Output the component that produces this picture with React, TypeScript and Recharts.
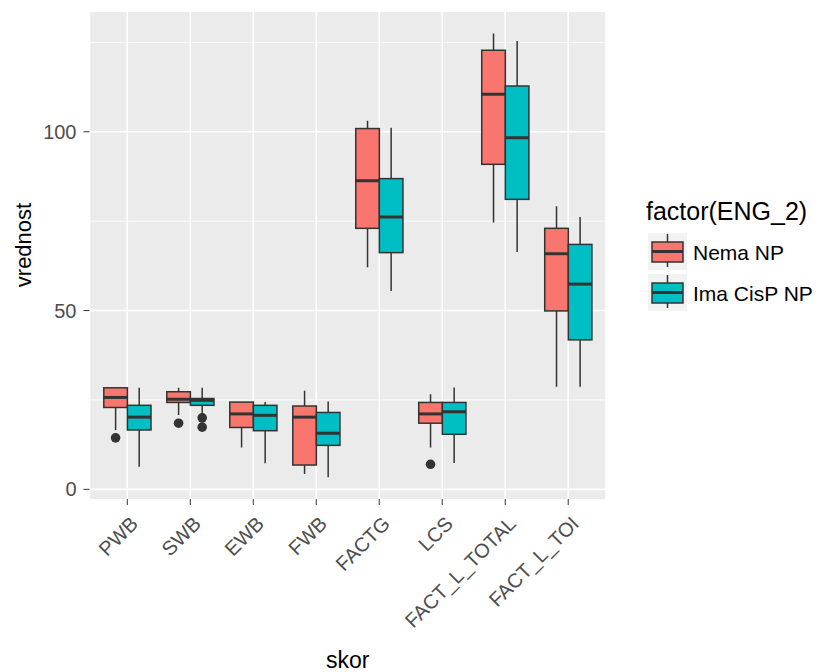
import { ComposedChart, Bar, XAxis, YAxis, CartesianGrid, Customized } from "recharts";

const categories = ["PWB", "SWB", "EWB", "FWB", "FACTG", "LCS", "FACT_L_TOTAL", "FACT_L_TOI"];

// Nema NP
const nemaLow = [16.6, 20.8, 11.7, 4.3, 62.1, 11.7, 74.6, 28.7];
const nemaQ1 = [22.9, 24.3, 17.3, 6.8, 73.0, 18.5, 90.9, 49.9];
const nemaMedian = [25.7, 25.2, 21.1, 20.2, 86.3, 21.1, 110.5, 65.9];
const nemaQ3 = [28.4, 27.3, 24.4, 23.3, 100.9, 24.3, 122.8, 73.0];
const nemaHigh = [28.4, 28.4, 24.4, 27.6, 103.1, 26.6, 127.5, 79.2];
const nemaOutliers = [[14.4], [18.5], [], [], [], [7.0], [], []];

// Ima CisP NP
const imaLow = [6.3, 21.0, 7.3, 3.4, 55.5, 7.4, 66.4, 28.7];
const imaQ1 = [16.6, 23.5, 16.4, 12.3, 66.2, 15.4, 81.1, 41.8];
const imaMedian = [20.2, 24.9, 20.7, 15.7, 76.2, 21.7, 98.3, 57.4];
const imaQ3 = [23.5, 25.4, 23.5, 21.5, 86.9, 24.3, 112.8, 68.5];
const imaHigh = [28.4, 28.4, 24.4, 24.6, 101.1, 28.5, 125.4, 76.2];
const imaOutliers = [[], [20.0, 17.4], [], [], [], [], [], []];

const yTicks = [0, 50, 100];
const yMinorTicks = [25, 75, 125];

const RED = "#F8766D";
const TEAL = "#00BFC4";
const OUTLINE = "#333333";
const FONT = "'Liberation Sans', Arial, sans-serif";

const legendItems = [
  { label: "Nema NP", color: RED },
  { label: "Ima CisP NP", color: TEAL },
];

const data = categories.map((skor, i) => ({
  skor,
  nema: [nemaLow[i], nemaHigh[i]],
  ima: [imaLow[i], imaHigh[i]],
  nemaBox: { low: nemaLow[i], q1: nemaQ1[i], med: nemaMedian[i], q3: nemaQ3[i], high: nemaHigh[i], out: nemaOutliers[i] },
  imaBox: { low: imaLow[i], q1: imaQ1[i], med: imaMedian[i], q3: imaQ3[i], high: imaHigh[i], out: imaOutliers[i] },
}));

// draws one box from the range bar's rectangle (low..high mapped linearly)
const BoxShape = (props: any) => {
  const { x, y, width, height, fill, box } = props;
  if (!box) return null;
  const py = (v: number) => y + (height * (box.high - v)) / (box.high - box.low);
  const cx = x + width / 2;
  return (
    <g>
      <line x1={cx} x2={cx} y1={py(box.high)} y2={py(box.q3)} stroke={OUTLINE} strokeWidth={1.5} />
      <line x1={cx} x2={cx} y1={py(box.q1)} y2={py(box.low)} stroke={OUTLINE} strokeWidth={1.5} />
      <rect x={x} y={py(box.q3)} width={width} height={py(box.q1) - py(box.q3)} fill={fill} stroke={OUTLINE} strokeWidth={1.5} />
      <line x1={x} x2={x + width} y1={py(box.med)} y2={py(box.med)} stroke={OUTLINE} strokeWidth={3} />
      {box.out.map((o: number, k: number) => (
        <circle key={k} cx={cx} cy={py(o)} r={4.8} fill={OUTLINE} />
      ))}
    </g>
  );
};

const XTick = ({ x, y, payload }: any) => {
  const tx = x + 12;
  const ty = y + 18;
  return (
    <text x={tx} y={ty} transform={`rotate(-45 ${tx} ${ty})`} textAnchor="end" fontSize={20} fill="#4D4D4D" fontFamily={FONT}>
      {payload.value}
    </text>
  );
};

const LegendBlock = () => (
  <g fontFamily={FONT}>
    <text x={646} y={220} fontSize={25} fill="#000">factor(ENG_2)</text>
    {legendItems.map((it, i) => {
      const top = 233 + i * 41;
      return (
        <g key={it.label}>
          <rect x={648} y={top} width={39} height={37} fill="#F2F2F2" />
          <line x1={667.5} x2={667.5} y1={top + 1} y2={top + 34} stroke={OUTLINE} strokeWidth={1.5} />
          <rect x={652} y={top + 9} width={31} height={20} fill={it.color} stroke={OUTLINE} strokeWidth={1.5} />
          <line x1={652} x2={683} y1={top + 18.5} y2={top + 18.5} stroke={OUTLINE} strokeWidth={3} />
          <text x={693} y={top + 27} fontSize={21} fill="#000">{it.label}</text>
        </g>
      );
    })}
  </g>
);

export default function App() {
  return (
    <div style={{ position: "absolute", left: 0, top: 0, width: 819, height: 672, background: "#fff" }}>
      <ComposedChart
        width={819}
        height={672}
        data={data}
        margin={{ top: 12, right: 213, bottom: 0, left: 0 }}
        barGap={0}
        barSize={23.6}
      >
        <CartesianGrid fill="#EBEBEB" stroke="#FFFFFF" strokeWidth={0.8} vertical={false} horizontalValues={yMinorTicks} />
        <CartesianGrid stroke="#FFFFFF" strokeWidth={1.6} horizontalValues={yTicks} />
        <XAxis
          dataKey="skor"
          type="category"
          height={173}
          padding={{ left: 6.3, right: 6.3 }}
          axisLine={false}
          tickLine={{ stroke: OUTLINE, strokeWidth: 1 }}
          tickSize={6}
          interval={0}
          tick={<XTick />}
          label={{
            content: ({ viewBox }: any) => (
              <text x={viewBox.x + viewBox.width / 2} y={668} textAnchor="middle" fontSize={23} fill="#000" fontFamily={FONT}>
                skor
              </text>
            ),
          }}
        />
        <YAxis
          type="number"
          domain={[-2.7, 133.5]}
          ticks={yTicks}
          allowDataOverflow
          width={89.5}
          axisLine={false}
          tickLine={{ stroke: OUTLINE, strokeWidth: 1 }}
          tickSize={6}
          tickMargin={7}
          tick={{ fontSize: 20, fill: "#4D4D4D", fontFamily: FONT }}
          label={{
            content: () => (
              <text x={31} y={245} transform="rotate(-90 31 245)" textAnchor="middle" fontSize={22} fill="#000" fontFamily={FONT}>
                vrednost
              </text>
            ),
          }}
        />
        <Bar dataKey="nema" fill={RED} isAnimationActive={false} shape={(p: any) => <BoxShape {...p} box={p.payload.nemaBox} />} />
        <Bar dataKey="ima" fill={TEAL} isAnimationActive={false} shape={(p: any) => <BoxShape {...p} box={p.payload.imaBox} />} />
        <Customized component={LegendBlock} />
      </ComposedChart>
    </div>
  );
}
